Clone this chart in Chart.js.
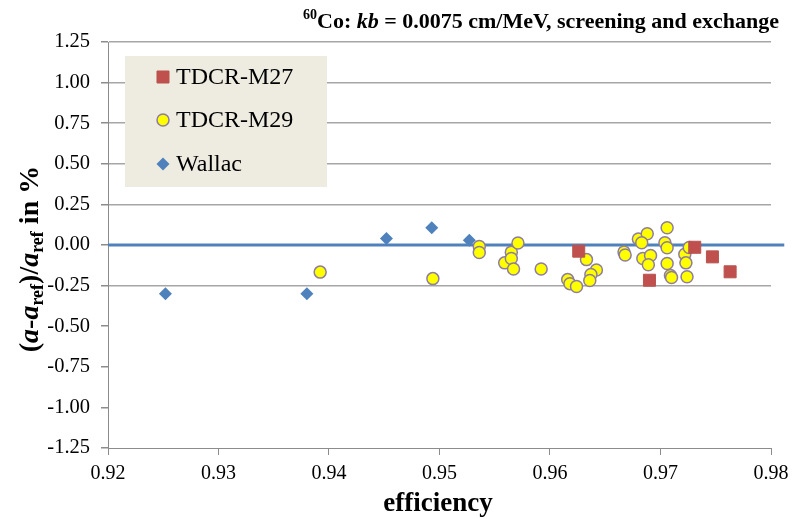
<!DOCTYPE html>
<html>
<head>
<meta charset="utf-8">
<script src="https://cdn.jsdelivr.net/npm/chart.js@4.4.0/dist/chart.umd.min.js"></script>
<style>
  html, body { margin: 0; padding: 0; background: #fff; }
</style>
</head>
<body>
<canvas id="chart" width="808" height="519"></canvas>
<script>
// values
var m27Eff = [0.9626, 0.9690, 0.9731, 0.9747, 0.9763];
var m27Dev = [-0.038, -0.217, -0.014, -0.073, -0.165];

var m29Eff = [0.9392, 0.9494, 0.9536, 0.9536, 0.9565, 0.9559, 0.9565, 0.9567, 0.9571, 0.9592,
              0.9616, 0.9618, 0.9624, 0.9633, 0.9642, 0.9637, 0.9636, 0.9667, 0.9668, 0.9680,
              0.9688, 0.9683, 0.9684, 0.9691, 0.9689, 0.9706, 0.9704, 0.9706, 0.9706, 0.9709,
              0.9710, 0.9722, 0.9726, 0.9723, 0.9724];
var m29Dev = [-0.167, -0.207, -0.009, -0.046, -0.044, -0.110, -0.083, -0.148, 0.012, -0.148,
              -0.213, -0.238, -0.256, -0.090, -0.154, -0.182, -0.219, -0.043, -0.062, 0.037,
              0.069, 0.014, -0.083, -0.065, -0.122, 0.106, 0.014, -0.017, -0.114, -0.188,
              -0.200, -0.057, -0.015, -0.110, -0.196];

var wallacEff = [0.9252, 0.9380, 0.9452, 0.9493, 0.9527];
var wallacDev = [-0.30, -0.30, 0.04, 0.106, 0.03];

var zeroEff = [0.92, 0.9812];
var zeroDev = [0, 0];

function pts(xs, ys) {
  var out = [];
  for (var i = 0; i < xs.length; i++) out.push({ x: xs[i], y: ys[i] });
  return out;
}

var SERIF = '"Liberation Serif", "Times New Roman", serif';

function drawRich(ctx, parts, x, y) {
  for (var i = 0; i < parts.length; i++) {
    ctx.font = parts[i].font;
    ctx.fillText(parts[i].t, x, y + (parts[i].dy || 0));
    x += ctx.measureText(parts[i].t).width;
  }
}
function richWidth(ctx, parts) {
  var w = 0;
  for (var i = 0; i < parts.length; i++) {
    ctx.font = parts[i].font;
    w += ctx.measureText(parts[i].t).width;
  }
  return w;
}

var decor = {
  id: 'decor',
  afterDraw: function(chart) {
    var ctx = chart.ctx;
    ctx.save();
    ctx.fillStyle = '#000';
    ctx.textBaseline = 'alphabetic';
    ctx.textAlign = 'left';

    // title
    var B22 = 'bold 22px ' + SERIF;
    drawRich(ctx, [
      { t: '60', font: 'bold 14px ' + SERIF, dy: -9 },
      { t: 'Co: ', font: B22 },
      { t: 'kb', font: 'italic bold 22px ' + SERIF },
      { t: ' = 0.0075 cm/MeV, screening and exchange', font: B22 }
    ], 303, 28);

    // y axis title
    var B = 'bold 28px ' + SERIF, BI = 'italic bold 28px ' + SERIF, S = 'bold 18px ' + SERIF;
    var yParts = [
      { t: '(', font: B }, { t: 'a', font: BI }, { t: '-', font: B }, { t: 'a', font: BI },
      { t: 'ref', font: S, dy: 5 }, { t: ')/', font: B }, { t: 'a', font: BI },
      { t: 'ref', font: S, dy: 5 }, { t: ' in %', font: B }
    ];
    ctx.save();
    ctx.translate(38, 259);
    ctx.rotate(-Math.PI / 2);
    drawRich(ctx, yParts, -richWidth(ctx, yParts) / 2, 0);
    ctx.restore();

    // x axis title
    ctx.font = 'bold 27px ' + SERIF;
    ctx.textAlign = 'center';
    ctx.fillText('efficiency', 438, 511);
    ctx.textAlign = 'left';

    // legend box
    ctx.fillStyle = '#EEEBE0';
    ctx.fillRect(125, 56, 202, 131);
    var rowY = [77, 120, 164];
    var k = 0;
    chart.data.datasets.forEach(function(ds) {
      if (!ds.inLegend) return;
      var y = rowY[k++];
      ctx.fillStyle = ds.backgroundColor;
      ctx.strokeStyle = ds.borderColor;
      ctx.lineWidth = ds.borderWidth;
      Chart.helpers.drawPoint(ctx, {
        pointStyle: ds.pointStyle, radius: ds.pointRadius, rotation: 0, borderWidth: ds.borderWidth
      }, 163, y);
      ctx.fillStyle = '#000';
      ctx.font = '24px ' + SERIF;
      ctx.textBaseline = 'middle';
      ctx.fillText(ds.label, 176, y + 1);
      ctx.textBaseline = 'alphabetic';
    });
    ctx.restore();
  }
};

new Chart(document.getElementById('chart').getContext('2d'), {
  type: 'scatter',
  data: {
    datasets: [
      {
        label: 'TDCR-M27', inLegend: true,
        data: pts(m27Eff, m27Dev),
        pointStyle: 'rect', pointRadius: 8.5,
        backgroundColor: '#C0504D', borderColor: '#B9544F', borderWidth: 1
      },
      {
        label: 'TDCR-M29', inLegend: true,
        data: pts(m29Eff, m29Dev),
        pointStyle: 'circle', pointRadius: 6,
        backgroundColor: '#FFFF00', borderColor: '#8E7D9E', borderWidth: 1.5
      },
      {
        label: 'Wallac', inLegend: true,
        data: pts(wallacEff, wallacDev),
        pointStyle: 'rectRot', pointRadius: 6.5,
        backgroundColor: '#4F81BD', borderColor: '#4F81BD', borderWidth: 0
      },
      {
        type: 'line', label: 'zero',
        data: pts(zeroEff, zeroDev),
        borderColor: '#4F81BD', borderWidth: 3, pointRadius: 0,
        clip: false
      }
    ]
  },
  options: {
    responsive: false,
    animation: false,
    layout: { padding: { top: 42, right: 37, left: 0, bottom: 0 } },
    plugins: { legend: { display: false }, tooltip: { enabled: false } },
    scales: {
      x: {
        type: 'linear', min: 0.92, max: 0.98,
        afterFit: function(s) { s.height = 71; },
        ticks: {
          stepSize: 0.01, padding: 7, color: '#000',
          font: { family: SERIF, size: 20 },
          callback: function(v) { return v.toFixed(2); }
        },
        grid: { drawOnChartArea: false, tickLength: 7, color: '#8C8C8C' },
        border: { color: '#8C8C8C', width: 1 }
      },
      y: {
        min: -1.25, max: 1.25,
        afterFit: function(s) { s.width = 108; },
        ticks: {
          stepSize: 0.25, padding: 11, color: '#000',
          font: { family: SERIF, size: 20.5 },
          callback: function(v) { return v.toFixed(2); }
        },
        grid: {
          tickLength: 7, tickColor: '#8C8C8C',
          color: function(c) { return c.tick && c.tick.value >= -0.3 ? '#A6A6A6' : 'rgba(0,0,0,0)'; },
          lineWidth: 1.5
        },
        border: { color: '#8C8C8C', width: 1 }
      }
    }
  },
  plugins: [decor]
});
</script>
</body>
</html>
